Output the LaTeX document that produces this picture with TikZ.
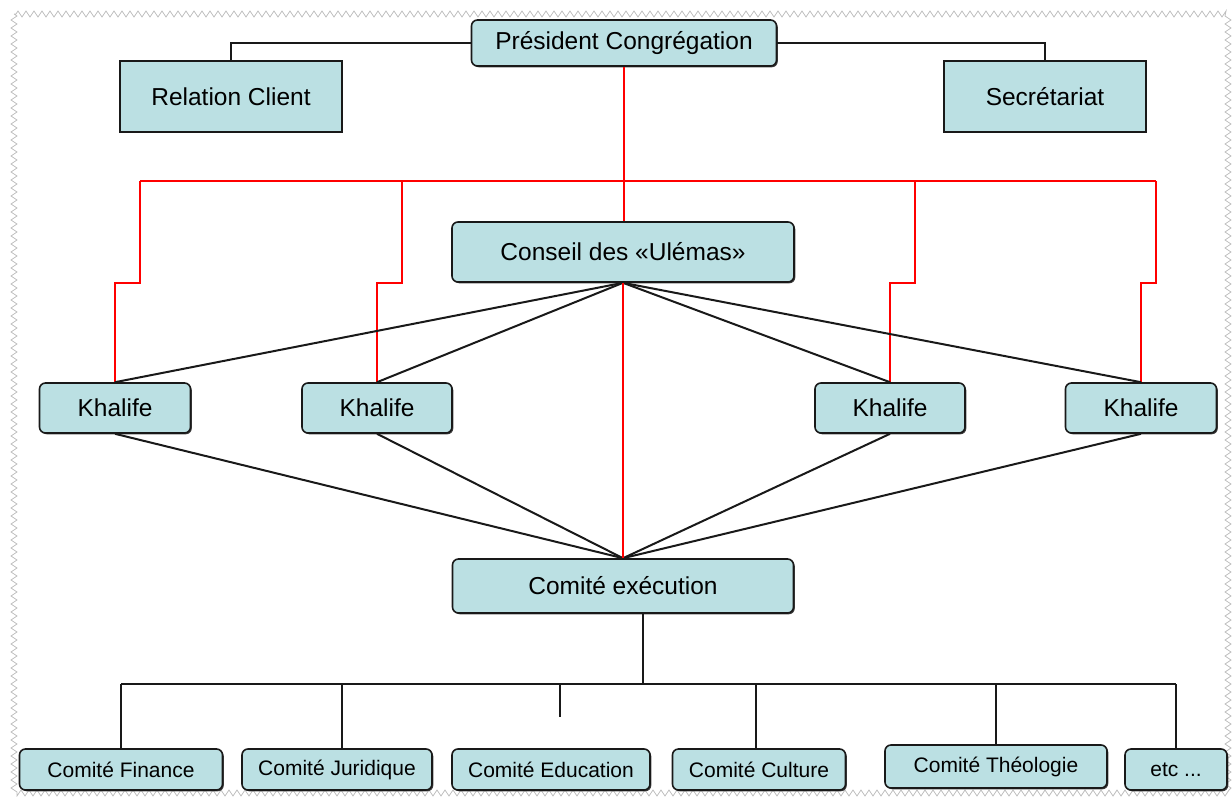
\documentclass[tikz,border=0pt]{standalone}
\usepackage{fontspec}
\setmainfont{Liberation Sans}
\usetikzlibrary{decorations.pathmorphing,shadows}
\definecolor{boxfill}{RGB}{187,224,227}
\definecolor{lineblk}{RGB}{25,25,25}
\definecolor{linered}{RGB}{255,0,0}
\definecolor{framegray}{RGB}{190,190,190}
\tikzset{
  basebox/.style={draw=lineblk, line width=1.6pt, fill=boxfill, inner sep=0pt, align=center,
    drop shadow={shadow xshift=1.3pt, shadow yshift=-1.3pt, fill=black!75, opacity=1}},
  roundbox/.style={basebox, rounded corners=6pt, font=\fontsize{24.5}{28}\selectfont},
  squarebox/.style={basebox, font=\fontsize{24.5}{28}\selectfont},
  smallbox/.style={basebox, rounded corners=6pt, font=\fontsize{21}{25}\selectfont},
  blk/.style={draw=lineblk, line width=2pt},
  redl/.style={draw=linered, line width=2pt},
}
\begin{document}
\begin{tikzpicture}[x=1pt,y=-1pt]
\useasboundingbox (0,0) rectangle (1232,796);
\draw[framegray, line width=0.8pt, decorate, decoration={zigzag, segment length=8pt, amplitude=3pt}]
  (14,14) rectangle (1228,793);

\coordinate (rA) at (140,181);
\coordinate (rB) at (402,181);
\coordinate (rC) at (915,181);
\coordinate (rD) at (1156,181);
\coordinate (hb0) at (121,684);
\coordinate (hb1) at (1176,684);
\coordinate (stubtop) at (560,684);
\coordinate (stub) at (560,717);

% nodes
\node[roundbox, minimum width=305pt, minimum height=46pt] (pres) at (624,43) {Président Congrégation};
\node[squarebox, minimum width=222pt, minimum height=71pt] (rel) at (231,96.5) {Relation Client};
\node[squarebox, minimum width=202pt, minimum height=71pt] (sec) at (1045,96.5) {Secrétariat};
\node[roundbox, minimum width=342pt, minimum height=60pt] (cons) at (623,252) {Conseil des «Ulémas»};
\node[roundbox, minimum width=151pt, minimum height=50pt] (k1) at (115,408) {Khalife};
\node[roundbox, minimum width=150pt, minimum height=50pt] (k2) at (377,408) {Khalife};
\node[roundbox, minimum width=150pt, minimum height=50pt] (k3) at (890,408) {Khalife};
\node[roundbox, minimum width=151pt, minimum height=50pt] (k4) at (1141,408) {Khalife};
\node[roundbox, minimum width=341pt, minimum height=54pt] (exe) at (623,586) {Comité exécution};
\node[smallbox, minimum width=203pt, minimum height=41pt] (fin) at (121,769.5) {Comité Finance};
\node[smallbox, minimum width=190pt, minimum height=41pt] (jur) at (337,769.5) {Comité Juridique};
\node[smallbox, minimum width=198pt, minimum height=41pt] (edu) at (551,769.5) {Comité Education};
\node[smallbox, minimum width=173pt, minimum height=41pt] (cul) at (759,769.5) {Comité Culture};
\node[smallbox, minimum width=222pt, minimum height=43pt] (theo) at (996,766.5) {Comité Théologie};
\node[smallbox, minimum width=102pt, minimum height=41pt] (etc) at (1176,769.5) {etc ...};

% top connectors
\draw[blk] (pres.west) -| (rel.north);
\draw[blk] (pres.east) -| (sec.north);

% red hierarchy
\draw[redl] (pres.south) -- (pres.south |- cons.north);
\draw[redl] (rA) -- (rD);
\draw[redl] (rA) -- (140,283) -| (k1.north);
\draw[redl] (rB) -- (402,283) -| (k2.north);
\draw[redl] (rC) -- (915,283) -| (k3.north);
\draw[redl] (rD) -- (1156,283) -| (k4.north);

% black fan lines
\foreach \k in {k1,k2,k3,k4} {
  \draw[blk] (cons.south) -- (\k.north);
  \draw[blk] (\k.south) -- (exe.north);
}
\draw[redl] (cons.south) -- (exe.north);

% bottom tree
\draw[blk] ([xshift=20pt]exe.south) -- ([xshift=20pt]exe.south |- hb0);
\draw[blk] (hb0) -- (hb1);
\draw[blk] (hb0) -- (fin.north);
\draw[blk] ([xshift=5pt]jur.north) -- ([xshift=5pt]jur.north |- hb0);
\draw[blk] (stubtop) -- (stub);
\draw[blk] ([xshift=-3pt]cul.north) -- ([xshift=-3pt]cul.north |- hb0);
\draw[blk] (theo.north) -- (theo.north |- hb0);
\draw[blk] (etc.north) -- (hb1);
\end{tikzpicture}
\end{document}
